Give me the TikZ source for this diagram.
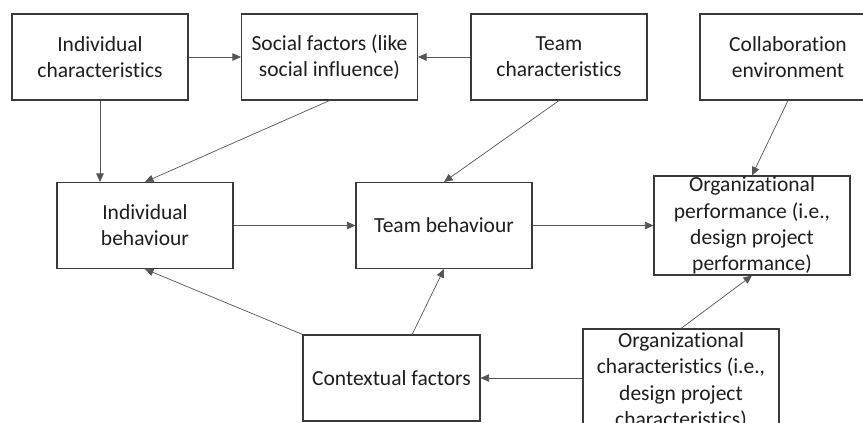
\documentclass[tikz,border=0pt]{standalone}
\usepackage{fontspec}
\setmainfont{Carlito}[Ligatures=NoCommon]
\usetikzlibrary{arrows.meta,calc}
\definecolor{boxline}{HTML}{3A3A3A}
\definecolor{linkline}{HTML}{555555}
\definecolor{txt}{HTML}{1E1E1E}
\begin{document}
\begin{tikzpicture}[x=1pt,y=-1pt,
  box/.style={draw=boxline,line width=1.1pt,fill=white,inner sep=0pt,
    align=center,text=txt,font=\fontsize{21.5}{26.2}\selectfont,
    minimum width=176pt,minimum height=86pt},
  link/.style={draw=linkline,line width=0.7pt,
    -{Triangle[length=8.5pt,width=7.5pt]}}]
\useasboundingbox (0,0) rectangle (863,423);
\clip (0,0) rectangle (863,423);
\fill[white] (0,0) rectangle (863,423);

% top row
\node[box] (ic) at (100,57) {Individual\\characteristics};
\node[box] (sf) at (329.5,57) {Social factors (like\\social influence)};
\node[box] (tc) at (559,57) {Team\\characteristics};
\node[box] (ce) at (788,57) {Collaboration\\environment};

% middle row
\node[box] (ib) at (145,225.5) {Individual\\behaviour};
\node[box] (tb) at (444,225.5) {Team behaviour};
\node[box,minimum width=196pt,minimum height=99pt] (op) at (752,225.5)
  {Organizational\\performance (i.e.,\\design project\\performance)};

% bottom row
\node[box,minimum width=177pt] (cf) at (391.5,378) {Contextual factors};
\node[box,minimum width=196pt,minimum height=104pt] (oc) at (681,381)
  {Organizational\\characteristics (i.e.,\\design project\\characteristics)};

% links
\draw[link] (ic.east) -- (sf.west);
\draw[link] (tc.west) -- (sf.east);
\draw[link] (ic.south) -- (ic.south |- ib.north);
\draw[link] (sf.south) -- (ib.north);
\draw[link] (tc.south) -- (tb.north);
\draw[link] (ce.south) -- (op.north);
\draw[link] (ib.east) -- (tb.west);
\draw[link] (tb.east) -- (op.west);
\draw[link] (cf.north west) -- (ib.south);
\draw[link] ($(cf.north west)!0.616!(cf.north east)$) -- (tb.south);
\draw[link] (oc.north) -- (op.south);
\draw[link] (cf.east -| oc.west) -- (cf.east);
\end{tikzpicture}
\end{document}
